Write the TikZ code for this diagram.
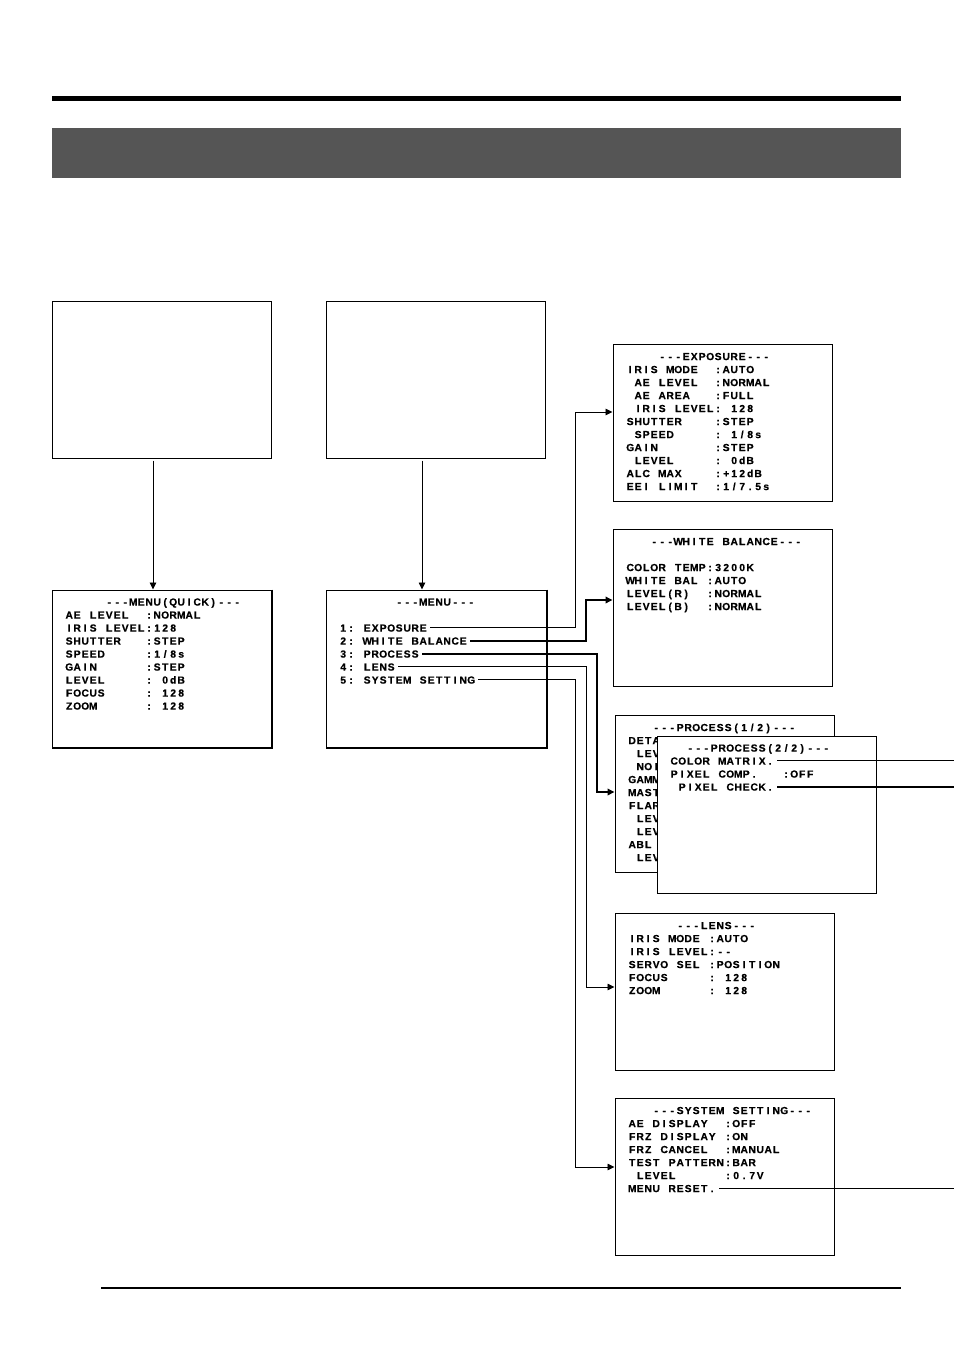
\documentclass[tikz,border=0pt]{standalone}
\usepackage{fontspec}
\usepackage{xcolor}
\usetikzlibrary{calc, arrows.meta}
\newfontfamily\osdfont{Liberation Sans Bold}[FakeBold=0.5]
\definecolor{band}{RGB}{85,85,85}

% on-screen text: every character sits in a cell 8pt wide, ~ is an empty cell
\ExplSyntaxOn
\NewDocumentCommand \osd { m }
  {
    \str_map_inline:nn {#1}
      {
        \str_if_eq:eeTF {##1} { \c_tilde_str }
          { \skip_horizontal:n { 8pt } }
          { \hbox_to_wd:nn { 8pt } { \hss ##1 \hss } }
      }
  }
\ExplSyntaxOff

% one line of text per row, 13pt apart, named <screen>-<row>
\newcommand\screentext[2]{%
  \foreach \t [count=\i from 0] in {#2} {
    \node[osd] (#1-\i) at ($(#1.north west)+(13.5,12.4+13*\i)$) {\expandafter\osd\expandafter{\t}};
  }%
}

\begin{document}
\begin{tikzpicture}[x=1pt, y=-1pt,
    screen/.style={draw, line width=1pt, fill=white, minimum width=219pt, minimum height=157pt, inner sep=0pt},
    osd/.style={anchor=west, inner sep=0pt, text height=7.4pt, text depth=0pt,
      font=\osdfont\fontsize{10.3}{12}\selectfont},
    wire/.style={line width=0.9pt, shorten <=3pt},
    heavy/.style={wire, line width=2pt},
    into/.style={-{Triangle[length=7pt, width=6.5pt]}}]
  \useasboundingbox (0,0) rectangle (954,1351);

  % page header
  \fill (52,96) rectangle (901,101);
  \fill[band] (52,128) rectangle (901,178);

  % camera pictures
  \node[screen] (cam1) at (161.5,379.5) {};
  \node[screen] (cam2) at (435.5,379.5) {};

  % first menus
  \node[screen] (quick) at (161.5,668.5) {};
  \draw[line width=1pt] ([shift={(1pt,0pt)}]quick.north east) -- ([shift={(1pt,-1pt)}]quick.south east)
    -- ([shift={(0pt,-1pt)}]quick.south west);
  \screentext{quick}{~~~~~---MENU(QUICK)---, AE LEVEL~~:NORMAL, IRIS LEVEL:128,
    SHUTTER~~~:STEP, SPEED~~~~~:1/8s, GAIN~~~~~~:STEP, LEVEL~~~~~: 0dB,
    FOCUS~~~~~: 128, ZOOM~~~~~~: 128}

  \node[screen, minimum width=220pt] (menu) at (436,668.5) {};
  \draw[line width=1pt] ([shift={(1pt,0pt)}]menu.north east) -- ([shift={(1pt,-1pt)}]menu.south east)
    -- ([shift={(0pt,-1pt)}]menu.south west);
  \screentext{menu}{~~~~~~~---MENU---, ~, 1: EXPOSURE, 2: WHITE BALANCE,
    3: PROCESS, 4: LENS, 5: SYSTEM SETTING}

  \draw[wire, into, shorten <=2pt] ([xshift=-8.5pt]cam1.south) -- ([xshift=-8.5pt]quick.north);
  \draw[wire, into, shorten <=2pt] ([xshift=-13.5pt]cam2.south) -- ([xshift=-14pt]menu.north);

  % sub menus
  \node[screen] (expo) at (722.5,423) {};
  \screentext{expo}{~~~~---EXPOSURE---, IRIS MODE~~:AUTO, ~AE LEVEL~~:NORMAL,
    ~AE AREA~~~:FULL, ~IRIS LEVEL: 128, SHUTTER~~~~:STEP, ~SPEED~~~~~: 1/8s,
    GAIN~~~~~~~:STEP, ~LEVEL~~~~~: 0dB, ALC MAX~~~~:+12dB, EEI LIMIT~~:1/7.5s}

  \node[screen] (wb) at (722.5,608) {};
  \screentext{wb}{~~~---WHITE BALANCE---, ~, COLOR TEMP:3200K, WHITE BAL~:AUTO,
    LEVEL(R)~~:NORMAL, LEVEL(B)~~:NORMAL}

  \node[screen] (proc1) at (724.5,794) {};
  \screentext{proc1}{~~~---PROCESS(1/2)---, DETA, ~LEV, ~NOI, GAMM, MAST, FLAR,
    ~LEV, ~LEV, ABL, ~LEV}

  \node[screen] (proc2) at (766.5,814.5) {};
  \screentext{proc2}{~~---PROCESS(2/2)---, COLOR MATRIX., PIXEL COMP.~~~:OFF,
    ~PIXEL CHECK.}

  \node[screen] (lens) at (724.5,992) {};
  \screentext{lens}{~~~~~~---LENS---, IRIS MODE~:AUTO, IRIS LEVEL:--,
    SERVO SEL~:POSITION, FOCUS~~~~~: 128, ZOOM~~~~~~: 128}

  \node[screen] (sys) at (724.5,1177) {};
  \screentext{sys}{~~~---SYSTEM SETTING---, AE DISPLAY~~:OFF, FRZ DISPLAY~:ON,
    FRZ CANCEL~~:MANUAL, TEST PATTERN:BAR, ~LEVEL~~~~~~:0.7V, MENU RESET.}

  % menu items to their pages
  \draw[wire, into] (menu-2.east) -| ($(expo.west)+(-37,-11)$) -- ($(expo.west)+(0,-11)$);
  \draw[heavy, into] (menu-3.east) -| ($(wb.west)+(-27,-8)$) -- ($(wb.west)+(0,-8)$);
  \draw[heavy, into] (menu-4.east) -| ($(proc1.west)+(-18,-2)$) -- ($(proc1.west)+(0,-2)$);
  \draw[wire, into] (menu-5.east) -| ($(lens.west)+(-28,-5)$) -- ($(lens.west)+(0,-5)$);
  \draw[wire, into] (menu-6.east) -| ($(sys.west)+(-39,-10)$) -- ($(sys.west)+(0,-10)$);

  % items leading off the page
  \coordinate (edge) at (954,0);
  \draw[wire] (proc2-1.east) -- (proc2-1.east -| edge);
  \draw[heavy] (proc2-3.east) -- (proc2-3.east -| edge);
  \draw[wire] (sys-6.east) -- (sys-6.east -| edge);

  % page footer
  \draw[line width=1.2pt] (101,1288) -- (901,1288);
\end{tikzpicture}
\end{document}
